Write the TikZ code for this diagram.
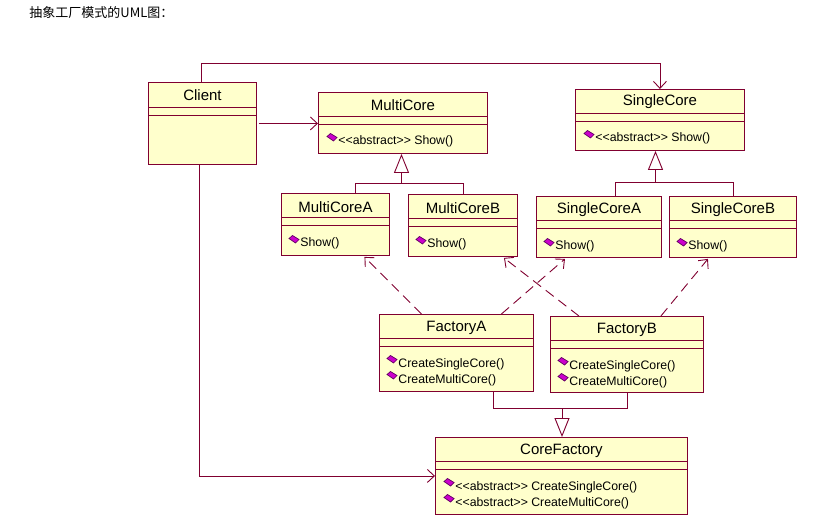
\documentclass[tikz,border=0pt]{standalone}
\usepackage{fontspec}
\newfontfamily\umlfont{Liberation Sans}
\newfontfamily\cjk{Noto Sans CJK SC}
\usetikzlibrary{arrows.meta}

\definecolor{boxfill}{RGB}{255,255,204}
\definecolor{umlred}{RGB}{128,0,48}
\definecolor{iconfill}{RGB}{204,0,204}
\definecolor{iconline}{RGB}{96,0,96}

\begin{document}
\begin{tikzpicture}[x=1pt, y=-1pt, line width=0.9pt,
    cls/.style={draw=umlred, fill=boxfill, anchor=north west, inner sep=0pt},
    title/.style={font=\umlfont\fontsize{15}{17}\selectfont, inner sep=0pt},
    meth/.style={font=\umlfont\fontsize{12.3}{14}\selectfont, anchor=west, inner sep=0pt},
    line/.style={draw=umlred},
    assoc/.style={draw=umlred, -{Straight Barb[length=7pt,width=13pt,line width=0.9pt]}},
    dep/.style={assoc, dash pattern=on 10pt off 6pt},
    inherit/.style={draw=umlred, -{Triangle[open,length=19pt,width=15pt,fill=white,line width=0.9pt]}},
    icon/.pic={\filldraw[fill=iconfill, draw=iconline, line width=0.7pt]
        (-5,-0.5) -- (-1.5,-3.5) -- (5,0.5) -- (1.5,4) -- cycle;}]

    \useasboundingbox (0,0) rectangle (823,527);

    \node[anchor=west, inner sep=0pt, font=\cjk\fontsize{13}{15}\selectfont] (heading) at (29,13) {抽象工厂模式的UML图：};

    % classes
    \node[cls, minimum width=108pt, minimum height=82pt] (Client) at (148,82) {};
    \node[title] (ClientT) at ([yshift=-13pt]Client.north) {Client};
    \draw[line] ([yshift=-25pt]Client.north west) -- ([yshift=-25pt]Client.north east)
                ([yshift=-33pt]Client.north west) -- ([yshift=-33pt]Client.north east);

    \node[cls, minimum width=169pt, minimum height=61pt] (MultiCore) at (318,92) {};
    \node[title] (MultiCoreT) at ([yshift=-13pt]MultiCore.north) {MultiCore};
    \draw[line] ([yshift=-24pt]MultiCore.north west) -- ([yshift=-24pt]MultiCore.north east)
                ([yshift=-32pt]MultiCore.north west) -- ([yshift=-32pt]MultiCore.north east);
    \node[meth] (MultiCoreShow) at ([xshift=20pt,yshift=-49pt]MultiCore.north west) {<<abstract>> Show()};
    \pic at ([xshift=-6pt,yshift=4pt]MultiCoreShow.west) {icon};

    \node[cls, minimum width=169pt, minimum height=61pt] (SingleCore) at (575,89) {};
    \node[title] (SingleCoreT) at ([yshift=-13pt]SingleCore.north) {SingleCore};
    \draw[line] ([yshift=-24pt]SingleCore.north west) -- ([yshift=-24pt]SingleCore.north east)
                ([yshift=-32pt]SingleCore.north west) -- ([yshift=-32pt]SingleCore.north east);
    \node[meth] (SingleCoreShow) at ([xshift=20pt,yshift=-49pt]SingleCore.north west) {<<abstract>> Show()};
    \pic at ([xshift=-6pt,yshift=4pt]SingleCoreShow.west) {icon};

    \node[cls, minimum width=108pt, minimum height=62pt] (MultiCoreA) at (281,193) {};
    \node[title] (MultiCoreAT) at ([yshift=-14pt]MultiCoreA.north) {MultiCoreA};
    \draw[line] ([yshift=-24pt]MultiCoreA.north west) -- ([yshift=-24pt]MultiCoreA.north east)
                ([yshift=-32pt]MultiCoreA.north west) -- ([yshift=-32pt]MultiCoreA.north east);
    \node[meth] (MultiCoreAShow) at ([xshift=19pt,yshift=-50pt]MultiCoreA.north west) {Show()};
    \pic at ([xshift=-6pt,yshift=4pt]MultiCoreAShow.west) {icon};

    \node[cls, minimum width=109pt, minimum height=62pt] (MultiCoreB) at (408,194) {};
    \node[title] (MultiCoreBT) at ([yshift=-14pt]MultiCoreB.north) {MultiCoreB};
    \draw[line] ([yshift=-24pt]MultiCoreB.north west) -- ([yshift=-24pt]MultiCoreB.north east)
                ([yshift=-32pt]MultiCoreB.north west) -- ([yshift=-32pt]MultiCoreB.north east);
    \node[meth] (MultiCoreBShow) at ([xshift=19pt,yshift=-50pt]MultiCoreB.north west) {Show()};
    \pic at ([xshift=-6pt,yshift=4pt]MultiCoreBShow.west) {icon};

    \node[cls, minimum width=125pt, minimum height=61pt] (SingleCoreA) at (536,196) {};
    \node[title] (SingleCoreAT) at ([yshift=-14pt]SingleCoreA.north) {SingleCoreA};
    \draw[line] ([yshift=-24pt]SingleCoreA.north west) -- ([yshift=-24pt]SingleCoreA.north east)
                ([yshift=-32pt]SingleCoreA.north west) -- ([yshift=-32pt]SingleCoreA.north east);
    \node[meth] (SingleCoreAShow) at ([xshift=19pt,yshift=-50pt]SingleCoreA.north west) {Show()};
    \pic at ([xshift=-6pt,yshift=4pt]SingleCoreAShow.west) {icon};

    \node[cls, minimum width=127pt, minimum height=61pt] (SingleCoreB) at (669,196) {};
    \node[title] (SingleCoreBT) at ([yshift=-14pt]SingleCoreB.north) {SingleCoreB};
    \draw[line] ([yshift=-24pt]SingleCoreB.north west) -- ([yshift=-24pt]SingleCoreB.north east)
                ([yshift=-32pt]SingleCoreB.north west) -- ([yshift=-32pt]SingleCoreB.north east);
    \node[meth] (SingleCoreBShow) at ([xshift=19pt,yshift=-50pt]SingleCoreB.north west) {Show()};
    \pic at ([xshift=-6pt,yshift=4pt]SingleCoreBShow.west) {icon};

    \node[cls, minimum width=154pt, minimum height=77pt] (FactoryA) at (379,314) {};
    \node[title] (FactoryAT) at ([yshift=-14pt]FactoryA.north) {FactoryA};
    \draw[line] ([yshift=-24pt]FactoryA.north west) -- ([yshift=-24pt]FactoryA.north east)
                ([yshift=-32pt]FactoryA.north west) -- ([yshift=-32pt]FactoryA.north east);
    \node[meth] (FactoryASingle) at ([xshift=19pt,yshift=-50pt]FactoryA.north west) {CreateSingleCore()};
    \node[meth] (FactoryAMulti) at ([xshift=19pt,yshift=-66pt]FactoryA.north west) {CreateMultiCore()};
    \pic at ([xshift=-6pt,yshift=5pt]FactoryASingle.west) {icon};
    \pic at ([xshift=-6pt,yshift=5pt]FactoryAMulti.west) {icon};

    \node[cls, minimum width=153pt, minimum height=76pt] (FactoryB) at (550,316) {};
    \node[title] (FactoryBT) at ([yshift=-14pt]FactoryB.north) {FactoryB};
    \draw[line] ([yshift=-24pt]FactoryB.north west) -- ([yshift=-24pt]FactoryB.north east)
                ([yshift=-32pt]FactoryB.north west) -- ([yshift=-32pt]FactoryB.north east);
    \node[meth] (FactoryBSingle) at ([xshift=19pt,yshift=-50pt]FactoryB.north west) {CreateSingleCore()};
    \node[meth] (FactoryBMulti) at ([xshift=19pt,yshift=-66pt]FactoryB.north west) {CreateMultiCore()};
    \pic at ([xshift=-6pt,yshift=5pt]FactoryBSingle.west) {icon};
    \pic at ([xshift=-6pt,yshift=5pt]FactoryBMulti.west) {icon};

    \node[cls, minimum width=252pt, minimum height=77pt] (CoreFactory) at (435,437) {};
    \node[title] (CoreFactoryT) at ([yshift=-14pt]CoreFactory.north) {CoreFactory};
    \draw[line] ([yshift=-24pt]CoreFactory.north west) -- ([yshift=-24pt]CoreFactory.north east)
                ([yshift=-32pt]CoreFactory.north west) -- ([yshift=-32pt]CoreFactory.north east);
    \node[meth] (CoreFactorySingle) at ([xshift=20pt,yshift=-50pt]CoreFactory.north west) {<<abstract>> CreateSingleCore()};
    \node[meth] (CoreFactoryMulti) at ([xshift=20pt,yshift=-66pt]CoreFactory.north west) {<<abstract>> CreateMultiCore()};
    \pic at ([xshift=-6pt,yshift=5pt]CoreFactorySingle.west) {icon};
    \pic at ([xshift=-6pt,yshift=5pt]CoreFactoryMulti.west) {icon};

    % client associations
    \draw[assoc] ([xshift=-1.5pt]Client.north) -- ++(0,-19) -| (SingleCore.north);
    \draw[assoc] ([xshift=2pt]Client.east) -- (Client.east -| MultiCore.west);
    \draw[assoc] ([xshift=-3pt]Client.south) |- (CoreFactory.west);

    % generalizations
    \coordinate (mJoin) at (401.5,183);
    \coordinate (sJoin) at (655.5,182);
    \coordinate (fJoin) at (562,408);

    \draw[line] ([xshift=20pt]MultiCoreA.north) |- (MultiCoreB.north |- mJoin) -- (MultiCoreB.north);
    \draw[inherit] (mJoin) -- (MultiCore.south -| mJoin);
    \draw[line] ([xshift=16.5pt]SingleCoreA.north) |- (SingleCoreB.north |- sJoin) -- (SingleCoreB.north);
    \draw[inherit] (sJoin) -- (SingleCore.south -| sJoin);
    \draw[line] ([xshift=37pt]FactoryA.south) |- (FactoryB.south |- fJoin) -- (FactoryB.south);
    \draw[inherit] (fJoin) -- (CoreFactory.north -| fJoin);

    % dependencies
    \draw[dep] ([xshift=-35pt]FactoryA.north) -- ([xshift=29pt,yshift=-1pt]MultiCoreA.south);
    \draw[dep] ([xshift=45pt]FactoryA.north) -- ([xshift=-34pt,yshift=-1pt]SingleCoreA.south);
    \draw[dep] ([xshift=-48pt]FactoryB.north) -- ([xshift=41pt,yshift=-1pt]MultiCoreB.south);
    \draw[dep] ([xshift=34pt]FactoryB.north) -- ([xshift=-25pt,yshift=-1pt]SingleCoreB.south);

\end{tikzpicture}
\end{document}
